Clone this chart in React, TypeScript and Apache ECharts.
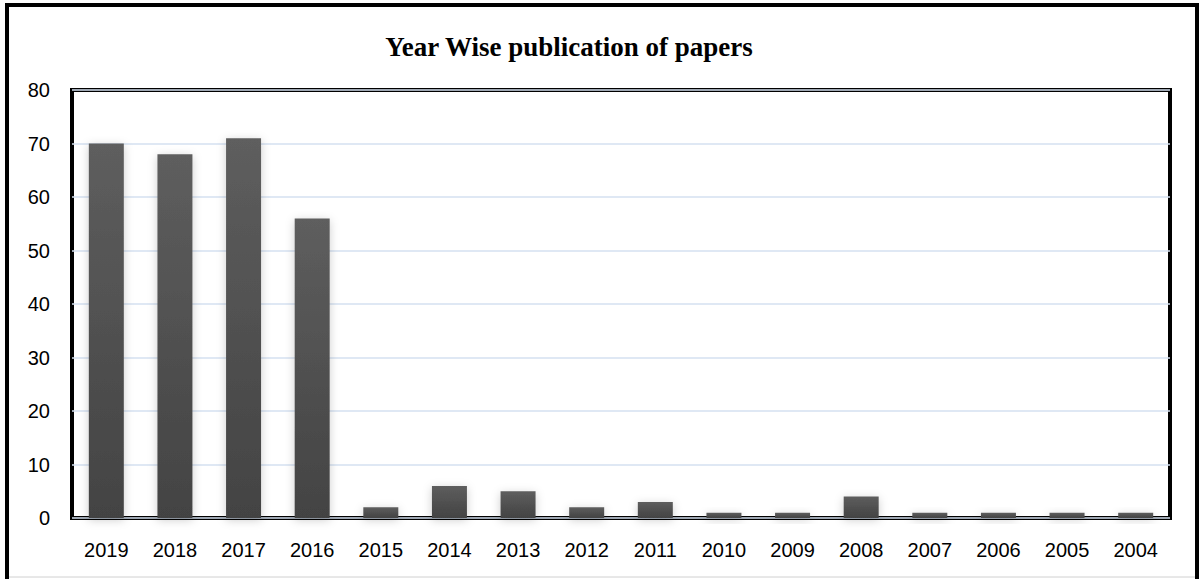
import React, { useEffect, useRef } from "react";
import * as echarts from "echarts";

const years = ["2019", "2018", "2017", "2016", "2015", "2014", "2013", "2012", "2011", "2010", "2009", "2008", "2007", "2006", "2005", "2004"];
const papers = [70, 68, 71, 56, 2, 6, 5, 2, 3, 1, 1, 4, 1, 1, 1, 1];
const yTicks = { min: 0, max: 80, interval: 10 };

export default function App() {
  const ref = useRef<HTMLDivElement>(null);

  useEffect(() => {
    if (!ref.current) return;
    const chart = echarts.init(ref.current, null, { renderer: "svg" });
    chart.setOption({
      animation: false,
      backgroundColor: "#ffffff",
      title: {
        text: "Year Wise publication of papers",
        left: 564,
        top: 28,
        textAlign: "center",
        textStyle: {
          fontFamily: "Liberation Serif, Times New Roman, serif",
          fontWeight: "bold",
          fontSize: 27,
          color: "#000",
        },
      },
      graphic: [
        {
          type: "rect",
          shape: { x: 7, y: 5, width: 1190, height: 600 },
          style: { fill: "none", stroke: "#000", lineWidth: 4 },
          silent: true,
        },
        {
          type: "line",
          shape: { x1: 9, y1: 577, x2: 1195, y2: 577 },
          style: { stroke: "#d0d0d0", lineWidth: 1 },
          silent: true,
        },
      ],
      grid: {
        left: 72,
        right: 30,
        top: 90,
        bottom: 61,
        show: true,
        borderColor: "#000",
        borderWidth: 4,
        backgroundColor: "transparent",
      },
      xAxis: {
        type: "category",
        data: years,
        axisLine: { show: false },
        axisTick: { show: false },
        axisLabel: {
          margin: 22,
          fontSize: 20,
          color: "#000",
          fontFamily: "Liberation Sans, Arial, sans-serif",
        },
      },
      yAxis: {
        type: "value",
        min: yTicks.min,
        max: yTicks.max,
        interval: yTicks.interval,
        axisLine: { show: false },
        axisTick: { show: false },
        axisLabel: {
          margin: 22,
          fontSize: 20,
          color: "#000",
          fontFamily: "Liberation Sans, Arial, sans-serif",
        },
        splitLine: { lineStyle: { color: "#d5e0f1", width: 1.5 } },
      },
      series: [
        {
          type: "bar",
          data: papers,
          barWidth: "51%",
          itemStyle: {
            color: new echarts.graphic.LinearGradient(0, 0, 0, 1, [
              { offset: 0, color: "#5e5e5e" },
              { offset: 1, color: "#434343" },
            ]),
            shadowBlur: 10,
            shadowColor: "rgba(0,0,0,0.2)",
            shadowOffsetX: 0,
            shadowOffsetY: 2,
          },
        },
      ],
    });
    return () => chart.dispose();
  }, []);

  return (
    <div
      ref={ref}
      style={{ position: "fixed", left: 0, top: 0, width: 1200, height: 579 }}
    />
  );
}
